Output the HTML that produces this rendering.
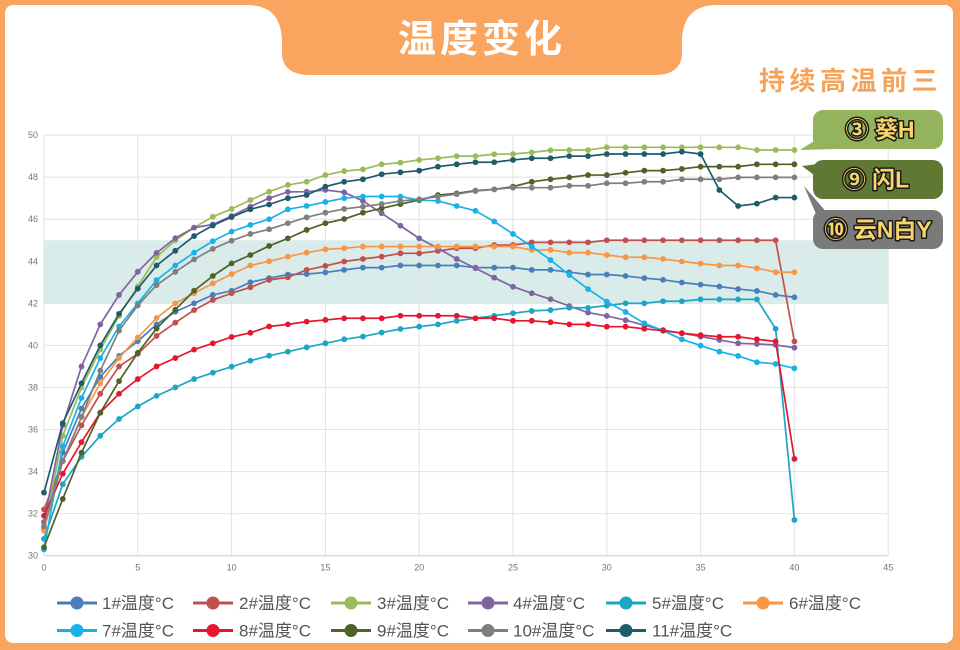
<!DOCTYPE html>
<html>
<head>
<meta charset="utf-8">
<style>
  html,body{margin:0;padding:0;background:#f9a45f;}
  body{width:960px;height:650px;overflow:hidden;}
  svg{display:block;}
  .ax{font-family:"Liberation Sans",sans-serif;font-size:9px;fill:#777;}
  .lg{font-family:"Liberation Sans","Noto Sans CJK SC",sans-serif;font-size:17px;fill:#555;}
  .lb{font-family:"Liberation Sans","Noto Sans CJK SC",sans-serif;font-size:23px;font-weight:bold;fill:#f9d46b;stroke:#1a1a1a;stroke-width:3;paint-order:stroke;stroke-linejoin:round;}
</style>
</head>
<body>
<svg width="960" height="650" viewBox="0 0 960 650" xmlns="http://www.w3.org/2000/svg">
  <defs>
    <marker id="m1" viewBox="-3 -3 6 6" markerWidth="0.3198" markerHeight="0.2853" markerUnits="userSpaceOnUse" preserveAspectRatio="none" refX="0" refY="0" overflow="visible"><circle r="2.9" fill="#4a7ebb"/></marker>
    <marker id="m2" viewBox="-3 -3 6 6" markerWidth="0.3198" markerHeight="0.2853" markerUnits="userSpaceOnUse" preserveAspectRatio="none" refX="0" refY="0" overflow="visible"><circle r="2.9" fill="#c0504d"/></marker>
    <marker id="m3" viewBox="-3 -3 6 6" markerWidth="0.3198" markerHeight="0.2853" markerUnits="userSpaceOnUse" preserveAspectRatio="none" refX="0" refY="0" overflow="visible"><circle r="2.9" fill="#9bbb59"/></marker>
    <marker id="m4" viewBox="-3 -3 6 6" markerWidth="0.3198" markerHeight="0.2853" markerUnits="userSpaceOnUse" preserveAspectRatio="none" refX="0" refY="0" overflow="visible"><circle r="2.9" fill="#8064a2"/></marker>
    <marker id="m5" viewBox="-3 -3 6 6" markerWidth="0.3198" markerHeight="0.2853" markerUnits="userSpaceOnUse" preserveAspectRatio="none" refX="0" refY="0" overflow="visible"><circle r="2.9" fill="#1ca6c4"/></marker>
    <marker id="m6" viewBox="-3 -3 6 6" markerWidth="0.3198" markerHeight="0.2853" markerUnits="userSpaceOnUse" preserveAspectRatio="none" refX="0" refY="0" overflow="visible"><circle r="2.9" fill="#f79646"/></marker>
    <marker id="m7" viewBox="-3 -3 6 6" markerWidth="0.3198" markerHeight="0.2853" markerUnits="userSpaceOnUse" preserveAspectRatio="none" refX="0" refY="0" overflow="visible"><circle r="2.9" fill="#19b2e8"/></marker>
    <marker id="m8" viewBox="-3 -3 6 6" markerWidth="0.3198" markerHeight="0.2853" markerUnits="userSpaceOnUse" preserveAspectRatio="none" refX="0" refY="0" overflow="visible"><circle r="2.9" fill="#e5172f"/></marker>
    <marker id="m9" viewBox="-3 -3 6 6" markerWidth="0.3198" markerHeight="0.2853" markerUnits="userSpaceOnUse" preserveAspectRatio="none" refX="0" refY="0" overflow="visible"><circle r="2.9" fill="#4f6228"/></marker>
    <marker id="m10" viewBox="-3 -3 6 6" markerWidth="0.3198" markerHeight="0.2853" markerUnits="userSpaceOnUse" preserveAspectRatio="none" refX="0" refY="0" overflow="visible"><circle r="2.9" fill="#7f7f7f"/></marker>
    <marker id="m11" viewBox="-3 -3 6 6" markerWidth="0.3198" markerHeight="0.2853" markerUnits="userSpaceOnUse" preserveAspectRatio="none" refX="0" refY="0" overflow="visible"><circle r="2.9" fill="#1f5b6b"/></marker>
  </defs>

  <!-- frame -->
  <rect x="0" y="0" width="960" height="650" fill="#f9a45f"/>
  <rect x="5" y="5" width="948" height="638" rx="8" fill="#ffffff"/>

  <!-- header tab -->
  <path d="M246 5 C270 5 280 16 282 38 L282 55 Q284 75 310 75 L655 75 Q680 75 682 55 L682 38 C684 16 694 5 718 5 Z" fill="#f9a45f"/>
  <text x="482" y="52" text-anchor="middle" font-family="'Noto Sans CJK SC',sans-serif" font-size="38" font-weight="bold" fill="#ffffff" letter-spacing="4">温度变化</text>

  <text x="942" y="90" text-anchor="end" font-family="'Noto Sans CJK SC',sans-serif" font-size="26" font-weight="bold" fill="#f5a35a" letter-spacing="4.5">持续高温前三</text>

  <!-- plot band -->
  <rect x="44" y="240.25" width="844.2" height="63.1" fill="#d9ecea"/>

  <!-- grid -->
  <g stroke="#e2e2e2" stroke-width="1">
    <line x1="44" y1="513.64" x2="888.2" y2="513.64"/>
    <line x1="44" y1="471.58" x2="888.2" y2="471.58"/>
    <line x1="44" y1="429.52" x2="888.2" y2="429.52"/>
    <line x1="44" y1="387.46" x2="888.2" y2="387.46"/>
    <line x1="44" y1="345.4" x2="888.2" y2="345.4"/>
    <line x1="44" y1="303.34" x2="888.2" y2="303.34"/>
    <line x1="44" y1="261.28" x2="888.2" y2="261.28"/>
    <line x1="44" y1="219.22" x2="888.2" y2="219.22"/>
    <line x1="44" y1="177.16" x2="888.2" y2="177.16"/>
    <line x1="44" y1="135.1" x2="888.2" y2="135.1"/>
    <line x1="44" y1="135.1" x2="44" y2="555.7"/>
    <line x1="137.8" y1="135.1" x2="137.8" y2="555.7"/>
    <line x1="231.6" y1="135.1" x2="231.6" y2="555.7"/>
    <line x1="325.4" y1="135.1" x2="325.4" y2="555.7"/>
    <line x1="419.2" y1="135.1" x2="419.2" y2="555.7"/>
    <line x1="513" y1="135.1" x2="513" y2="555.7"/>
    <line x1="606.8" y1="135.1" x2="606.8" y2="555.7"/>
    <line x1="700.6" y1="135.1" x2="700.6" y2="555.7"/>
    <line x1="794.4" y1="135.1" x2="794.4" y2="555.7"/>
    <line x1="888.2" y1="135.1" x2="888.2" y2="555.7"/>
  </g>
  <line x1="44" y1="555.7" x2="888.2" y2="555.7" stroke="#d0d0d0" stroke-width="1.2"/>

  <!-- y labels -->
  <g class="ax" text-anchor="end">
    <text x="38" y="558.7">30</text>
    <text x="38" y="516.6">32</text>
    <text x="38" y="474.6">34</text>
    <text x="38" y="432.5">36</text>
    <text x="38" y="390.5">38</text>
    <text x="38" y="348.4">40</text>
    <text x="38" y="306.3">42</text>
    <text x="38" y="264.3">44</text>
    <text x="38" y="222.2">46</text>
    <text x="38" y="180.2">48</text>
    <text x="38" y="138.1">50</text>
  </g>
  <!-- x labels -->
  <g class="ax" text-anchor="middle">
    <text x="44" y="570.5">0</text>
    <text x="137.8" y="570.5">5</text>
    <text x="231.6" y="570.5">10</text>
    <text x="325.4" y="570.5">15</text>
    <text x="419.2" y="570.5">20</text>
    <text x="513" y="570.5">25</text>
    <text x="606.8" y="570.5">30</text>
    <text x="700.6" y="570.5">35</text>
    <text x="794.4" y="570.5">40</text>
    <text x="888.2" y="570.5">45</text>
  </g>

  <!-- series -->
  <g transform="matrix(18.76 0 0 -21.03 44 1186.6)" fill="none" stroke-width="1.7" stroke-linejoin="round">
    <polyline vector-effect="non-scaling-stroke" stroke="#4a7ebb" marker-start="url(#m1)" marker-mid="url(#m1)" marker-end="url(#m1)"
      points="0,31.3 1,34.9 2,37 3,38.5 4,39.5 5,40.2 6,41 7,41.6 8,42 9,42.4 10,42.6 11,43 12,43.2 13,43.37 14,43.39 15,43.47 16,43.59 17,43.7 18,43.7 19,43.8 20,43.8 21,43.8 22,43.8 23,43.7 24,43.7 25,43.7 26,43.59 27,43.59 28,43.48 29,43.37 30,43.37 31,43.3 32,43.2 33,43.12 34,42.99 35,42.89 36,42.8 37,42.68 38,42.59 39,42.4 40,42.29"/>
    <polyline vector-effect="non-scaling-stroke" stroke="#c0504d" marker-start="url(#m2)" marker-mid="url(#m2)" marker-end="url(#m2)"
      points="0,32.2 1,34.5 2,36.2 3,37.7 4,39 5,39.6 6,40.45 7,41.08 8,41.68 9,42.16 10,42.48 11,42.76 12,43.11 13,43.24 14,43.59 15,43.78 16,43.99 17,44.11 18,44.22 19,44.38 20,44.38 21,44.49 22,44.62 23,44.62 24,44.77 25,44.77 26,44.9 27,44.9 28,44.9 29,44.9 30,45 31,45 32,45 33,45 34,45 35,45 36,45 37,45 38,45 39,45 40,40.19"/>
    <polyline vector-effect="non-scaling-stroke" stroke="#9bbb59" marker-start="url(#m3)" marker-mid="url(#m3)" marker-end="url(#m3)"
      points="0,31.2 1,35.7 2,38 3,39.8 4,41.4 5,42.8 6,44.2 7,45 8,45.6 9,46.12 10,46.49 11,46.91 12,47.31 13,47.63 14,47.78 15,48.1 16,48.29 17,48.37 18,48.61 19,48.69 20,48.82 21,48.9 22,49 23,49 24,49.09 25,49.1 26,49.18 27,49.28 28,49.29 29,49.29 30,49.42 31,49.42 32,49.42 33,49.42 34,49.42 35,49.42 36,49.42 37,49.42 38,49.29 39,49.29 40,49.29"/>
    <polyline vector-effect="non-scaling-stroke" stroke="#8064a2" marker-start="url(#m4)" marker-mid="url(#m4)" marker-end="url(#m4)"
      points="0,31.6 1,36.2 2,39 3,41 4,42.4 5,43.5 6,44.4 7,45.1 8,45.6 9,45.75 10,46.15 11,46.6 12,47 13,47.3 14,47.31 15,47.39 16,47.28 17,46.87 18,46.28 19,45.69 20,45.09 21,44.62 22,44.11 23,43.67 24,43.22 25,42.79 26,42.48 27,42.2 28,41.87 29,41.56 30,41.4 31,41.2 32,40.96 33,40.73 34,40.58 35,40.42 36,40.26 37,40.1 38,40.07 39,40.02 40,39.89"/>
    <polyline vector-effect="non-scaling-stroke" stroke="#1ca6c4" marker-start="url(#m5)" marker-mid="url(#m5)" marker-end="url(#m5)"
      points="0,30.8 1,33.4 2,34.7 3,35.7 4,36.5 5,37.1 6,37.6 7,38 8,38.4 9,38.7 10,38.99 11,39.27 12,39.51 13,39.7 14,39.91 15,40.1 16,40.29 17,40.42 18,40.61 19,40.78 20,40.89 21,41 22,41.17 23,41.29 24,41.41 25,41.53 26,41.64 27,41.68 28,41.79 29,41.79 30,41.89 31,42 32,42 33,42.1 34,42.1 35,42.19 36,42.19 37,42.19 38,42.19 39,40.79 40,31.7"/>
    <polyline vector-effect="non-scaling-stroke" stroke="#f79646" marker-start="url(#m6)" marker-mid="url(#m6)" marker-end="url(#m6)"
      points="0,31.2 1,34.5 2,36.6 3,38.2 4,39.4 5,40.38 6,41.3 7,42 8,42.48 9,42.95 10,43.39 11,43.8 12,44 13,44.22 14,44.41 15,44.57 16,44.62 17,44.7 18,44.7 19,44.7 20,44.7 21,44.7 22,44.7 23,44.7 24,44.7 25,44.7 26,44.54 27,44.54 28,44.41 29,44.41 30,44.3 31,44.19 32,44.19 33,44.11 34,43.99 35,43.89 36,43.8 37,43.8 38,43.67 39,43.48 40,43.48"/>
    <polyline vector-effect="non-scaling-stroke" stroke="#19b2e8" marker-start="url(#m7)" marker-mid="url(#m7)" marker-end="url(#m7)"
      points="0,30.3 1,35.2 2,37.5 3,39.4 4,40.9 5,42 6,43.1 7,43.8 8,44.41 9,44.96 10,45.41 11,45.73 12,46 13,46.47 14,46.63 15,46.82 16,47 17,47.08 18,47.08 19,47.08 20,46.91 21,46.87 22,46.63 23,46.4 24,45.89 25,45.3 26,44.7 27,44.06 28,43.35 29,42.68 30,42.08 31,41.59 32,41.05 33,40.7 34,40.29 35,39.99 36,39.7 37,39.5 38,39.2 39,39.12 40,38.91"/>
    <polyline vector-effect="non-scaling-stroke" stroke="#e5172f" marker-start="url(#m8)" marker-mid="url(#m8)" marker-end="url(#m8)"
      points="0,31.9 1,33.9 2,35.4 3,36.8 4,37.7 5,38.4 6,39 7,39.4 8,39.8 9,40.1 10,40.4 11,40.6 12,40.9 13,41 14,41.13 15,41.21 16,41.29 17,41.29 18,41.29 19,41.41 20,41.41 21,41.41 22,41.41 23,41.29 24,41.29 25,41.17 26,41.17 27,41.1 28,41 29,41 30,40.89 31,40.89 32,40.79 33,40.7 34,40.58 35,40.49 36,40.41 37,40.41 38,40.29 39,40.19 40,34.6"/>
    <polyline vector-effect="non-scaling-stroke" stroke="#4f6228" marker-start="url(#m9)" marker-mid="url(#m9)" marker-end="url(#m9)"
      points="0,30.4 1,32.7 2,34.9 3,36.8 4,38.3 5,39.65 6,40.8 7,41.7 8,42.6 9,43.3 10,43.9 11,44.3 12,44.73 13,45.09 14,45.49 15,45.81 16,46.01 17,46.31 18,46.52 19,46.72 20,46.91 21,47.15 22,47.23 23,47.36 24,47.42 25,47.55 26,47.78 27,47.9 28,47.99 29,48.1 30,48.1 31,48.21 32,48.31 33,48.31 34,48.39 35,48.5 36,48.5 37,48.5 38,48.61 39,48.61 40,48.61"/>
    <polyline vector-effect="non-scaling-stroke" stroke="#7f7f7f" marker-start="url(#m10)" marker-mid="url(#m10)" marker-end="url(#m10)"
      points="0,31.4 1,34.5 2,36.6 3,38.8 4,40.7 5,41.9 6,42.87 7,43.5 8,44.09 9,44.59 10,44.98 11,45.3 12,45.52 13,45.81 14,46.09 15,46.31 16,46.49 17,46.6 18,46.72 19,46.87 20,46.95 21,47.08 22,47.19 23,47.34 24,47.42 25,47.5 26,47.5 27,47.5 28,47.59 29,47.59 30,47.71 31,47.71 32,47.78 33,47.78 34,47.9 35,47.9 36,47.9 37,47.99 38,47.99 39,47.99 40,47.99"/>
    <polyline vector-effect="non-scaling-stroke" stroke="#1f5b6b" marker-start="url(#m11)" marker-mid="url(#m11)" marker-end="url(#m11)"
      points="0,33 1,36.3 2,38.2 3,40 4,41.5 5,42.7 6,43.8 7,44.5 8,45.2 9,45.7 10,46.1 11,46.47 12,46.7 13,47 14,47.15 15,47.55 16,47.78 17,47.9 18,48.14 19,48.23 20,48.31 21,48.5 22,48.61 23,48.71 24,48.71 25,48.82 26,48.9 27,48.9 28,49 29,49 30,49.1 31,49.1 32,49.1 33,49.1 34,49.21 35,49.1 36,47.39 37,46.63 38,46.74 39,47.03 40,47.03"/>
  </g>

  <!-- callout labels -->
  <polygon points="822,136 800,150 836,149" fill="#93b35d"/>
  <rect x="813" y="110" width="130" height="39" rx="10" fill="#93b35d"/>
  <text class="lb" x="880" y="137.5" text-anchor="middle">③ 葵H</text>

  <polygon points="818,164 802,166 818,178" fill="#5f7833"/>
  <rect x="813" y="160" width="130" height="39" rx="10" fill="#5f7833"/>
  <text class="lb" x="876" y="187.5" text-anchor="middle">⑨ 闪L</text>

  <polygon points="804,186 816,214 828,214" fill="#7a7a7a"/>
  <rect x="813" y="210" width="130" height="39" rx="10" fill="#7a7a7a"/>
  <text class="lb" x="878" y="237.5" text-anchor="middle">⑩ 云N白Y</text>

  <!-- legend -->
  <g stroke-width="3">
    <line x1="57" y1="603" x2="97" y2="603" stroke="#4a7ebb"/><circle cx="77" cy="603" r="6.5" fill="#4a7ebb" stroke="none"/>
    <line x1="193" y1="603" x2="233" y2="603" stroke="#c0504d"/><circle cx="213" cy="603" r="6.5" fill="#c0504d" stroke="none"/>
    <line x1="331" y1="603" x2="371" y2="603" stroke="#9bbb59"/><circle cx="351" cy="603" r="6.5" fill="#9bbb59" stroke="none"/>
    <line x1="468" y1="603" x2="508" y2="603" stroke="#8064a2"/><circle cx="488" cy="603" r="6.5" fill="#8064a2" stroke="none"/>
    <line x1="606" y1="603" x2="646" y2="603" stroke="#1ca6c4"/><circle cx="626" cy="603" r="6.5" fill="#1ca6c4" stroke="none"/>
    <line x1="743" y1="603" x2="783" y2="603" stroke="#f79646"/><circle cx="763" cy="603" r="6.5" fill="#f79646" stroke="none"/>
    <line x1="57" y1="630.5" x2="97" y2="630.5" stroke="#19b2e8"/><circle cx="77" cy="630.5" r="6.5" fill="#19b2e8" stroke="none"/>
    <line x1="193" y1="630.5" x2="233" y2="630.5" stroke="#e5172f"/><circle cx="213" cy="630.5" r="6.5" fill="#e5172f" stroke="none"/>
    <line x1="331" y1="630.5" x2="371" y2="630.5" stroke="#4f6228"/><circle cx="351" cy="630.5" r="6.5" fill="#4f6228" stroke="none"/>
    <line x1="468" y1="630.5" x2="508" y2="630.5" stroke="#7f7f7f"/><circle cx="488" cy="630.5" r="6.5" fill="#7f7f7f" stroke="none"/>
    <line x1="606" y1="630.5" x2="646" y2="630.5" stroke="#1f5b6b"/><circle cx="626" cy="630.5" r="6.5" fill="#1f5b6b" stroke="none"/>
  </g>
  <g class="lg">
    <text x="102" y="609">1#温度°C</text>
    <text x="239" y="609">2#温度°C</text>
    <text x="377" y="609">3#温度°C</text>
    <text x="513" y="609">4#温度°C</text>
    <text x="652" y="609">5#温度°C</text>
    <text x="789" y="609">6#温度°C</text>
    <text x="102" y="636.5">7#温度°C</text>
    <text x="239" y="636.5">8#温度°C</text>
    <text x="377" y="636.5">9#温度°C</text>
    <text x="513" y="636.5">10#温度°C</text>
    <text x="652" y="636.5">11#温度°C</text>
  </g>
</svg>
</body>
</html>
